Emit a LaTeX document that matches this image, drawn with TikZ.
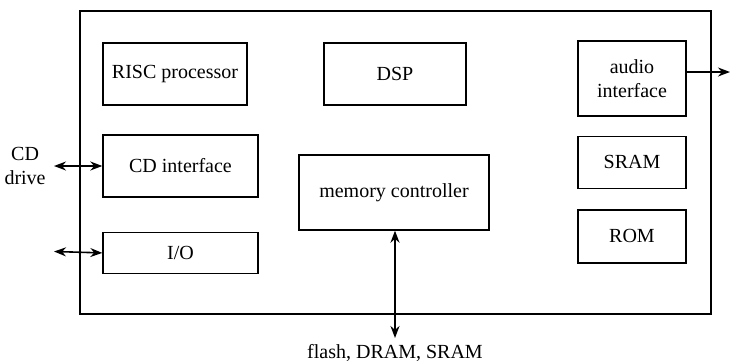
\documentclass[tikz,border=0pt]{standalone}
\usepackage{fontspec}
\setmainfont{Liberation Serif}
\usetikzlibrary{arrows.meta,positioning,calc}

\begin{document}
\begin{tikzpicture}[auto, >={Stealth[length=6pt,width=4.5pt]}, x=0.5pt, y=-0.5pt]
        \tikzset{
            block/.style={draw, fill=white, rectangle, align=center, line width=0.7pt, inner sep=2pt},
            chip/.style={draw, rectangle, line width=0.8pt, minimum width=315.5pt, minimum height=151.5pt},
            link/.style={line width=0.8pt}
        }
        \useasboundingbox (0,0) rectangle (730,360);

        % Nodes
        \node [chip] (soc) at (395.5,162.5) {};
        \node [block, minimum width=72pt, minimum height=31pt] (risc) at (175,74) {RISC processor};
        \node [block, minimum width=71pt, minimum height=31pt] (dsp) at (395,74) {DSP};
        \node [block, minimum width=54pt, minimum height=37.5pt] (audio) at (632,78.5) {audio\\interface};
        \node [block, minimum width=54pt, minimum height=26pt, below=9.5pt of audio] (sram) {SRAM};
        \node [block, minimum width=54pt, minimum height=26.5pt, below=10pt of sram] (rom) {ROM};
        \node [block, minimum width=77.5pt, minimum height=31pt] (cd) at (180.5,166) {CD interface};
        \node [block, minimum width=77.5pt, minimum height=20.5pt, below=17pt of cd] (io) {I/O};
        \node [block, minimum width=95pt, minimum height=37.5pt] (mem) at (394,192.5) {memory controller};

        % Outside ends
        \coordinate (cd_ext) at (54,166);
        \coordinate (io_ext) at (54,251.5);
        \coordinate (aud_ext) at (730,72);
        \coordinate (mem_ext) at (395,338);

        % Connections
        \draw [<->, link] (cd_ext) -- (cd.west);
        \node [align=center, left=4pt of cd_ext, inner sep=0pt] (cd_lbl) {CD\\drive};
        \draw [<->, link] (io_ext) -- (io.west);
        \draw [->, link] (aud_ext -| audio.east) -- (aud_ext);
        \draw [<->, line width=1.3pt] (mem.south -| mem_ext) -- (mem_ext);
        \node [below=2pt of mem_ext, inner sep=1pt] (mem_lbl) {flash, DRAM, SRAM};
    \end{tikzpicture}
\end{document}
